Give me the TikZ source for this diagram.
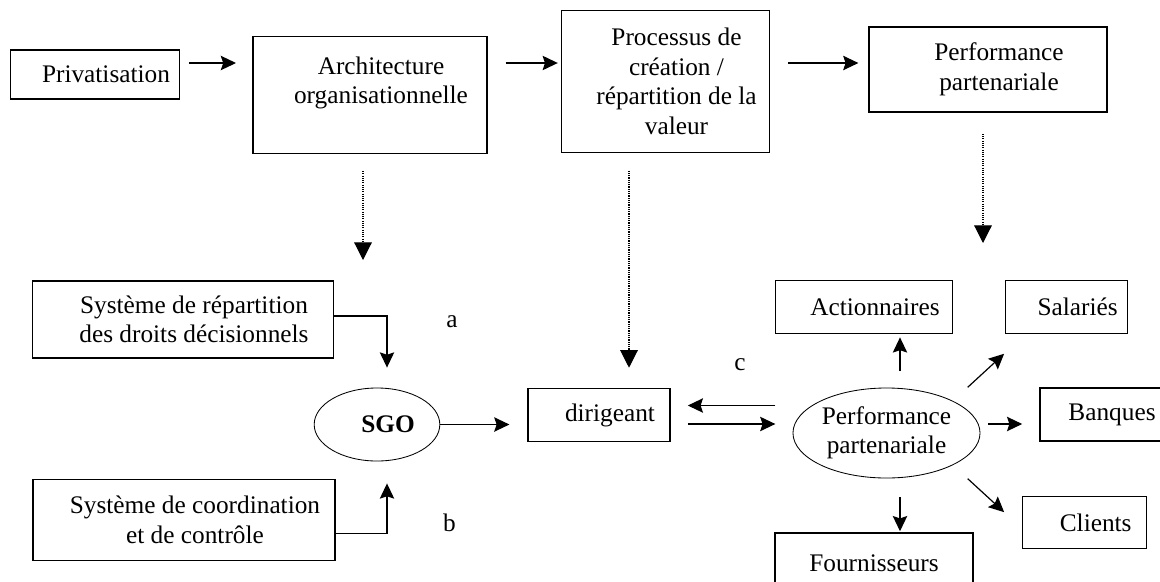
\documentclass[tikz,border=0pt]{standalone}
\usepackage{fontspec}
\setmainfont{Liberation Serif}
\usetikzlibrary{arrows.meta,shapes.geometric}
\newcommand{\lpad}{\hspace*{0.55cm}}

\begin{document}
\begin{tikzpicture}[x=0.025cm,y=-0.025cm,
	font=\fontsize{18}{21}\selectfont,
	box/.style={draw,line width=0.8pt,align=center,inner sep=0pt},
	oval/.style={ellipse,draw,line width=0.6pt,align=center,inner sep=0pt},
	arr/.style={line width=0.85pt,-{Stealth[length=0.38cm,width=0.36cm,inset=0.06cm]}},
	dotarr/.style={line width=0.8pt,dash pattern=on 0.8pt off 0.8pt,-{Triangle[length=0.44cm,width=0.44cm]}}]
	\useasboundingbox (0,0) rectangle (1160,581);
	% top row
	\path (95,74.5) node[box,minimum width=4.225cm,minimum height=1.225cm] (priv) {\lpad Privatisation}
	(370,95) node[box,minimum width=5.85cm,minimum height=2.915cm] (arch) {\lpad Architecture\\\lpad organisationnelle\\\mbox{}}
	(665.5,81.5) node[box,minimum width=5.195cm,minimum height=3.57cm] (proc) {\lpad Processus de\\\lpad création /\\\lpad répartition de la\\\lpad valeur}
	(988,69.5) node[box,minimum width=5.95cm,minimum height=2.125cm] (perf) {\lpad Performance\\\lpad partenariale};
	% left part
	\path (183,319.5) node[box,minimum width=7.51cm,minimum height=1.925cm] (sysrep) {\lpad Système de répartition\\\lpad des droits décisionnels}
	(184,520) node[box,minimum width=7.55cm,minimum height=2.04cm] (syscoord) {\lpad Système de coordination\\\lpad et de contrôle}
	(377,424.5) node[oval,minimum width=3.14cm,minimum height=1.825cm] (sgo) {\lpad\textbf{SGO}}
	(599,415) node[box,minimum width=3.55cm,minimum height=1.335cm] (dirig) {\lpad dirigeant};
	% partners
	\path (886.5,433) node[oval,minimum width=4.675cm,minimum height=2.25cm] (perfell) {Performance\\partenariale}
	(864,307) node[box,minimum width=4.44cm,minimum height=1.31cm] (action) {\lpad Actionnaires}
	(1066.7,307) node[box,minimum width=3.05cm,minimum height=1.31cm] (salar) {\lpad Salariés}
	(1112,414.5) node[box,minimum width=3.6cm,minimum height=1.325cm] (banq) {Banques}
	(1084.7,522.5) node[box,minimum width=3.1cm,minimum height=1.29cm] (client) {\lpad Clients}
	(874,563) node[box,minimum width=4.95cm,minimum height=1.5cm] (fourn) {Fournisseurs};
	\node (la) at (452,322) {a};
	\node (lb) at (449.5,523) {b};
	\node (lc) at (740,365) {c};
	% helper points
	\coordinate (row) at (0,63);
	\coordinate (sgoin) at (363,260);
	\coordinate (dv) at (629,0);
	\coordinate (partin) at (983,243);
	\coordinate (cup) at (0,405.5);
	\coordinate (cdown) at (0,424);
	\coordinate (brow) at (0,424);
	\coordinate (vx) at (900,0);
	% arrows
	\draw[arr,shorten <=0.22cm,shorten >=0.41cm] (priv.east |- row) -- (arch.west |- row);
	\draw[arr,shorten <=0.45cm,shorten >=0.08cm] (arch.east |- row) -- (proc.west |- row);
	\draw[arr,shorten <=0.45cm,shorten >=0.25cm] (proc.east |- row) -- (perf.west |- row);
	\draw[dotarr,shorten <=0.43cm] (arch.south -| sgoin) -- (sgoin);
	\draw[dotarr,shorten <=0.43cm,shorten >=0.5cm] (proc.south -| dv) -- (dirig.north -| dv);
	\draw[dotarr,shorten <=0.53cm] (perf.south -| partin) -- (partin);
	\draw[arr,shorten >=0.5cm] ([yshift=0.09cm]sysrep.east) -| ([xshift=0.25cm]sgo.north);
	\draw[arr,shorten >=0.55cm] ([yshift=-0.33cm]syscoord.east) -| ([xshift=0.25cm]sgo.south);
	\draw[arr,shorten >=0.45cm] (sgo.east) -- (sgo.east -| dirig.west);
	\draw[arr,shorten <=0.43cm,shorten >=0.43cm] (perfell.west |- cup) -- (dirig.east |- cup);
	\draw[arr,shorten <=0.43cm,shorten >=0.43cm] (dirig.east |- cdown) -- (perfell.west |- cdown);
	\draw[arr,shorten <=0.41cm,shorten >=0.09cm] (perfell.north -| vx) -- (action.south -| vx);
	\draw[arr,shorten <=0.5cm] (perfell.north east) -- ([shift={(-1,20)}]salar.south west);
	\draw[arr,shorten <=0.2cm,shorten >=0.43cm] (perfell.east |- brow) -- (banq.west |- brow);
	\draw[arr,shorten <=0.5cm] (perfell.south east) -- ([shift={(-18,16)}]client.north west);
	\draw[arr,shorten <=0.47cm,shorten >=0.03cm] (perfell.south -| vx) -- (fourn.north -| vx);
\end{tikzpicture}
\end{document}
